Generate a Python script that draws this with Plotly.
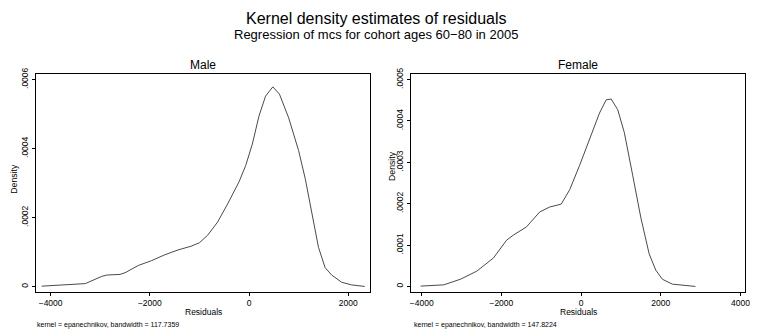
import plotly.graph_objects as go

male_x = [-4180, -3300, -2967, -2867, -2600, -2500, -2233, -1967, -1700, -1433, -1167, -1000,
          -833, -633, -433, -200, -67, 67, 200, 333, 480, 613, 800, 1000, 1133, 1267, 1400,
          1533, 1667, 1867, 2067, 2333]
male_y = [0.0000011, 0.0000085, 0.0000296, 0.0000333, 0.0000353, 0.00004, 0.000061, 0.000075,
          0.000092, 0.000106, 0.000117, 0.000127, 0.000149, 0.000187, 0.000239, 0.000304,
          0.000351, 0.000413, 0.000494, 0.000552, 0.000579, 0.000558, 0.000489, 0.000394,
          0.000313, 0.000209, 0.000114, 0.000055, 0.0000333, 0.0000125, 0.0000048, 0.0000003]

female_x = [-4026, -3446, -3030, -2615, -2200, -1868, -1703, -1370, -1038, -789, -498, -284,
            -35, 214, 463, 630, 755, 921, 1086, 1295, 1501, 1708, 1875, 2042, 2291, 2871]
female_y = [0.000001, 0.000004, 0.0000175, 0.0000372, 0.0000688, 0.000112, 0.000124, 0.000144,
            0.00018, 0.000192, 0.000199, 0.000234, 0.000293, 0.000356, 0.000419, 0.000451,
            0.000453, 0.000427, 0.000372, 0.000269, 0.000166, 0.0000793, 0.0000396, 0.0000175,
            0.0000057, 0.0000002]

male_yticks = [0, 0.0002, 0.0004, 0.0006]
male_yticktext = ["0", ".0002", ".0004", ".0006"]
female_yticks = [0, 0.0001, 0.0002, 0.0003, 0.0004, 0.0005]
female_yticktext = ["0", ".0001", ".0002", ".0003", ".0004", ".0005"]
male_xticks = [-4000, -2000, 0, 2000]
female_xticks = [-4000, -2000, 0, 2000, 4000]

FONT = "Liberation Sans, Arial, sans-serif"
LINE = "#4a4a4a"

fig = go.Figure()
fig.add_trace(go.Scatter(x=male_x, y=male_y, mode="lines", line=dict(color=LINE, width=1),
                         xaxis="x", yaxis="y", showlegend=False))
fig.add_trace(go.Scatter(x=female_x, y=female_y, mode="lines", line=dict(color=LINE, width=1),
                         xaxis="x2", yaxis="y2", showlegend=False))

ydom = [1 - 291 / 331, 1 - 69 / 331]
common_ax = dict(showgrid=False, zeroline=False, showline=True, linecolor="black", linewidth=1,
                 mirror=True, ticks="outside", ticklen=3, tickcolor="black",
                 tickfont=dict(size=8.5, color="black", family=FONT))

fig.update_layout(
    width=757, height=331, margin=dict(l=0, r=0, t=0, b=0),
    paper_bgcolor="white", plot_bgcolor="white",
    font=dict(family=FONT, color="black"),
    xaxis=dict(domain=[35 / 757, 372 / 757], range=[-4300, 2440], tickvals=male_xticks,
               anchor="y", **common_ax),
    yaxis=dict(domain=ydom, range=[-0.000015, 0.000617], tickvals=male_yticks,
               ticktext=male_yticktext, tickangle=-90, anchor="x", **common_ax),
    xaxis2=dict(domain=[413 / 757, 750 / 757], range=[-4275, 4116], tickvals=female_xticks,
                anchor="y2", **common_ax),
    yaxis2=dict(domain=ydom, range=[-0.0000126, 0.000514], tickvals=female_yticks,
                ticktext=female_yticktext, tickangle=-90, anchor="x2", **common_ax),
)

def ann(text, x, y, size, xanchor="center", angle=0):
    fig.add_annotation(text=text, x=x / 757, y=1 - y / 331, xref="paper", yref="paper",
                       showarrow=False, font=dict(size=size, color="black", family=FONT),
                       xanchor=xanchor, yanchor="middle", textangle=angle, borderpad=0)

ann("Kernel density estimates of residuals", 378, 13, 16)
ann("Regression of mcs for cohort ages 60\u221280 in 2005", 378, 29, 13)
ann("Male", 204, 60, 12)
ann("Female", 582, 60, 12)
ann("Density", 13, 176, 8.7, angle=-90)
ann("Density", 394, 163, 8.7, angle=-90)
ann("Residuals", 204, 312, 8.5)
ann("Residuals", 582, 312, 8.5)
ann("kernel = epanechnikov, bandwidth = 117.7359", 35, 324.5, 7, xanchor="left")
ann("kernel = epanechnikov, bandwidth = 147.8224", 415, 324.5, 7, xanchor="left")

fig.write_html("out.html")
